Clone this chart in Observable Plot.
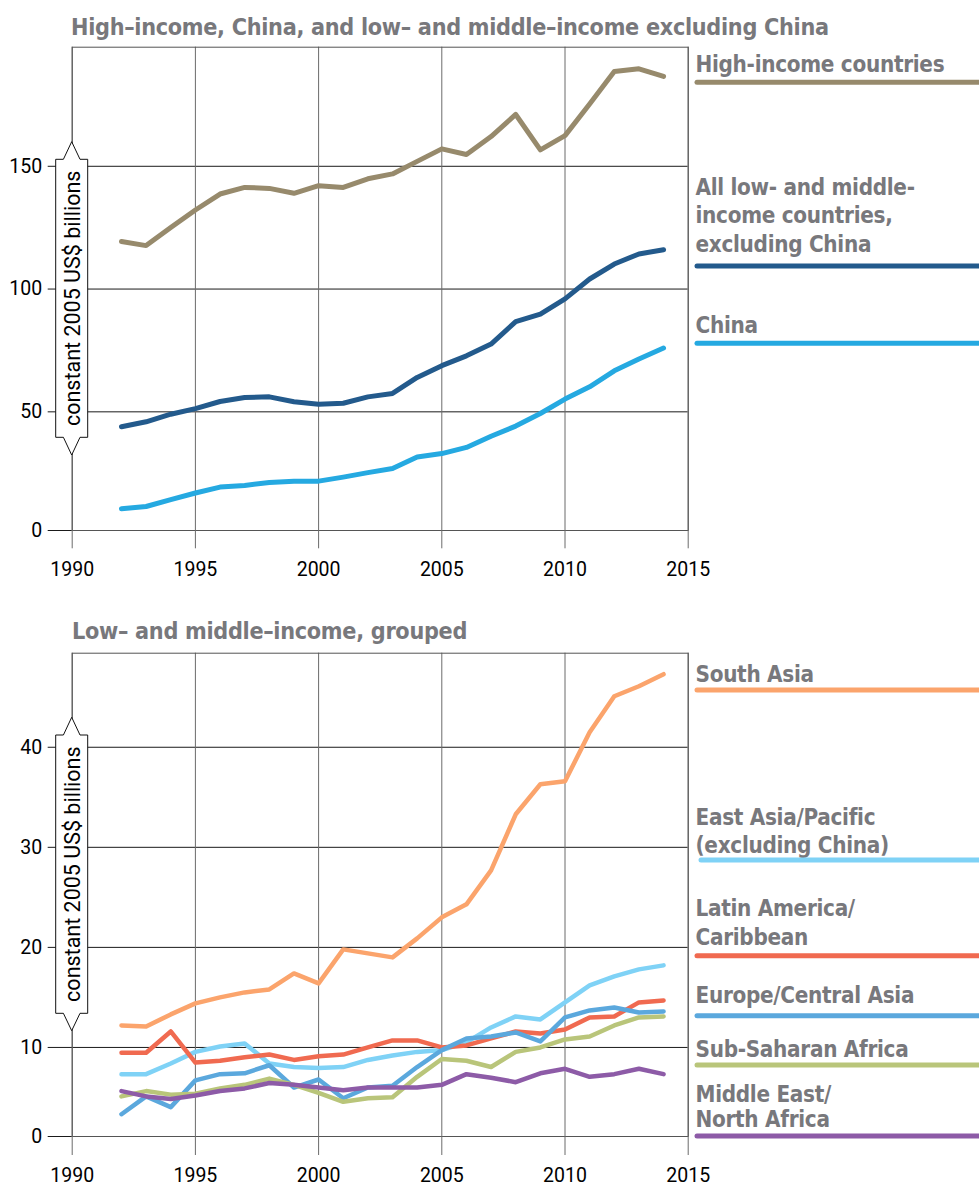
<!DOCTYPE html>
<html><head><meta charset="utf-8">
<script src="https://cdn.jsdelivr.net/npm/d3@7"></script>
<script src="https://cdn.jsdelivr.net/npm/@observablehq/plot@0.6"></script>
<style>
html,body{margin:0;padding:0;background:#fff;}
#wrap{position:relative;width:979px;height:1187px;overflow:hidden;background:#fff;}
.ttl{position:absolute;font-weight:bold;color:#78787c;white-space:nowrap;line-height:1;}
#wrap svg{position:absolute;left:0;}
</style></head><body><div id="wrap"></div>
<script>
// ---------- data ----------
const years = [1992,1993,1994,1995,1996,1997,1998,1999,2000,2001,2002,2003,2004,2005,2006,2007,2008,2009,2010,2011,2012,2013,2014];
const xTicks = [1990,1995,2000,2005,2010,2015];

const titleTop = "High–income, China, and low– and middle–income excluding China";
const titleBottom = "Low– and middle–income, grouped";
const yAxisLabel = "constant 2005 US$ billions";

const highIncome = [119.4,117.7,125.1,132.2,138.7,141.4,141.0,139.0,142.1,141.4,144.9,146.9,152.0,157.1,154.8,162.1,171.1,156.7,162.5,175.4,188.6,189.7,186.6];
const lowMidExChina = [43.7,45.8,49.0,51.3,54.2,55.8,56.1,54.1,53.1,53.5,56.1,57.5,64.0,68.8,72.8,77.6,86.7,89.8,96.0,104.1,110.2,114.3,116.0];
const china = [9.2,10.1,13.0,15.8,18.3,19.0,20.2,20.7,20.8,22.5,24.4,26.1,31.0,32.4,35.0,39.7,44.0,49.3,55.2,60.2,66.7,71.5,76.0];
const yTicksTop = [0,50,100,150];
const topNames = [["High-income countries"],["All low- and middle-","income countries,","excluding China"],["China"]];

const southAsia = [12.2,12.1,13.3,14.4,15.0,15.5,15.8,17.4,16.4,19.8,19.4,19.0,20.9,23.0,24.3,27.7,33.3,36.3,36.6,41.5,45.1,46.1,47.3];
const eastAsiaPacific = [7.0,7.0,8.2,9.5,10.1,10.4,8.2,7.8,7.7,7.8,8.6,9.1,9.5,9.7,10.5,12.0,13.1,12.8,14.5,16.2,17.1,17.8,18.2];
const latinAmerica = [9.4,9.4,11.6,8.3,8.5,8.9,9.2,8.6,9.0,9.2,10.0,10.7,10.7,10.0,10.2,10.9,11.6,11.4,11.8,13.0,13.1,14.5,14.7];
const europeCentralAsia = [2.5,4.5,3.3,6.3,7.0,7.1,8.0,5.5,6.4,4.3,5.5,5.7,7.8,9.7,10.9,11.1,11.5,10.6,13.0,13.7,14.0,13.5,13.6];
const subSaharanAfrica = [4.5,5.1,4.7,4.8,5.4,5.8,6.5,5.8,4.9,3.9,4.3,4.4,6.7,8.7,8.5,7.8,9.5,10.0,10.8,11.1,12.2,13.0,13.1];
const middleEastNorthAfrica = [5.1,4.5,4.2,4.6,5.1,5.4,6.0,5.8,5.5,5.2,5.5,5.5,5.5,5.8,7.0,6.6,6.1,7.1,7.6,6.7,7.0,7.6,7.0];
const yTicksBottom = [0,10,20,30,40];
const bottomNames = [["South Asia"],["East Asia/Pacific","(excluding China)"],["Latin America/","Caribbean"],["Europe/Central Asia"],["Sub-Saharan Africa"],["Middle East/","North Africa"]];

// ---------- styles / layout ----------
const topColors = ["#978a6c","#235a8c","#25a9e1"];
const bottomColors = ["#fba46c","#7fd2f6","#f06a50","#5ba8dd","#b9c57a","#8d5ba7"];
const labelGray = "#78787c";

function avail(f){
  const c=document.createElement("canvas").getContext("2d");
  const s="High-income countries mmmWWWiii";
  c.font="bold 25px monospace"; const a=c.measureText(s).width;
  c.font=`bold 25px "${f}", monospace`; const b=c.measureText(s).width;
  return a!==b;
}
let labelFont, labelSize, titleSize, labelSpacing;
if (avail("Liberation Sans Narrow")) { labelFont='"Liberation Sans Narrow"'; labelSize=25; titleSize=25; labelSpacing=0; }
else if (avail("DejaVu Sans Condensed")) { labelFont='"DejaVu Sans Condensed"'; labelSize=22.3; titleSize=23.2; labelSpacing=-0.3; }
else { labelFont='Roboto'; labelSize=23; titleSize=23.5; labelSpacing=-0.7; }

const wrap = document.getElementById("wrap");
function addTitle(text, baseline, left){
  const d=document.createElement("div"); d.className="ttl"; d.textContent=text;
  d.style.top=(baseline - 0.85*titleSize)+"px"; d.style.left=left+"px";
  d.style.fontFamily=labelFont; d.style.fontSize=titleSize+"px"; d.style.letterSpacing=labelSpacing+"px";
  wrap.appendChild(d);
}

function makeChart(cfg){
  const marks = [
    Plot.ruleY(cfg.yTicks, {stroke:"#1a1a1a", strokeWidth:1}),
    Plot.ruleX(xTicks, {stroke:"#6b6b6b", strokeWidth:1}),
    Plot.frame({stroke:"#555", strokeWidth:1}),
    Plot.axisY(cfg.yTicks, {tickSize:24, tickPadding:6, stroke:"#1a1a1a", fill:"#000", fontSize:19.5, tickFormat:d=>String(d)}),
    Plot.axisX(xTicks, {tickSize:cfg.xTickSize, tickPadding:cfg.xTickPad, stroke:"#6b6b6b", fill:"#000", fontSize:19.5, tickFormat:d=>String(d)}),
    ...cfg.series.map((vals,i)=>Plot.line(vals, {x: years, y: vals, stroke: cfg.colors[i], strokeWidth: cfg.lw, strokeLinecap:"round", strokeLinejoin:"round"}))
  ];
  const svg = Plot.plot({
    width: 979, height: cfg.height,
    marginLeft: 71.7, marginRight: 291.3, marginTop: cfg.mt, marginBottom: cfg.mb,
    x: {domain:[1990,2015]},
    // the printed axis is compressed between 0 and the first gridline
    y: {transform: cfg.yTransform, domain: cfg.yDomain},
    style: {background:"transparent", overflow:"visible", fontFamily:"Roboto", fontSize:"19px", color:"#000"},
    marks
  });
  svg.style.top = cfg.top+"px";
  wrap.appendChild(svg);
  const g = d3.select(svg).append("g");
  // y-axis label box
  const b = cfg.box, cx=71.7, hw=8.3, L=55.7, R=87.7;
  const p = `M${cx},${b[0]}L${cx+hw},${b[1]}L${R},${b[1]}L${R},${b[2]}L${cx+hw},${b[2]}L${cx},${b[3]}L${cx-hw},${b[2]}L${L},${b[2]}L${L},${b[1]}L${cx-hw},${b[1]}Z`;
  g.append("path").attr("d",p).attr("fill","#fff").attr("stroke","#111").attr("stroke-width",1);
  g.append("text").attr("transform",`translate(79.5,${(b[1]+b[2])/2}) rotate(-90)`)
    .attr("text-anchor","middle").attr("font-family","Roboto").attr("font-size",21.5).attr("fill","#000").text(yAxisLabel);
  // legend
  cfg.names.forEach((lines,i)=>{
    const lg = cfg.legend[i];
    lines.forEach((t,j)=>{
      g.append("text").attr("x",695.5).attr("y",lg.base[j]-cfg.top).attr("text-anchor","start")
        .attr("font-family",labelFont.replace(/"/g,"'")).attr("font-weight","bold").attr("font-size",labelSize)
        .attr("letter-spacing",labelSpacing).attr("fill",labelGray).text(t);
    });
    g.append("line").attr("x1",lg.x0||697).attr("x2",990).attr("y1",lg.line-cfg.top).attr("y2",lg.line-cfg.top)
      .attr("stroke",cfg.colors[i]).attr("stroke-width",5).attr("stroke-linecap","round");
  });
}

addTitle(titleTop, 35, 71);
makeChart({
  top:44, height:556, mt:2.7, mb:70, xTickSize:18.3, xTickPad:13,
  yTransform: v => v < 50 ? v*0.9666 : v - 1.67, yDomain:[0,196.83], yTicks:yTicksTop,
  series:[highIncome, lowMidExChina, china], colors:topColors, lw:5,
  box:[97.7,115.3,393.3,411], names: topNames,
  legend:[{base:[71.7],line:82.3},{base:[195,223.3,251.7],line:266},{base:[333.3],line:343.3}]
});
addTitle(titleBottom, 638.3, 72);
makeChart({
  top:648, height:539, mt:4.7, mb:51, xTickSize:19, xTickPad:12.5,
  yTransform: v => v < 10 ? v*0.89 : v - 1.1, yDomain:[0,48.3], yTicks:yTicksBottom,
  series:[southAsia, eastAsiaPacific, latinAmerica, europeCentralAsia, subSaharanAfrica, middleEastNorthAfrica], colors:bottomColors, lw:4.5,
  box:[69.3,87,365.3,382.7], names: bottomNames,
  legend:[{base:[681.7],line:690},{base:[825,853.3],line:860,x0:701},{base:[916,945],line:955.7},{base:[1003.3],line:1015.7},{base:[1056.7],line:1065},{base:[1101.7,1126.7],line:1136}]
});
</script></body></html>
